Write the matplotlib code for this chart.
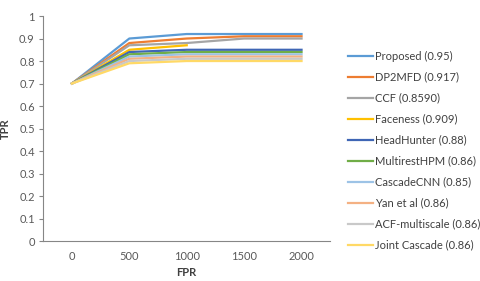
import matplotlib.pyplot as plt
import numpy as np

plt.rcParams['font.family'] = ['Lato', 'DejaVu Sans']

fpr_labels = ['0', '500', '1000', '1500', '2000']

names = ['Proposed (0.95)', 'DP2MFD (0.917)', 'CCF (0.8590)', 'Faceness (0.909)',
         'HeadHunter (0.88)', 'MultirestHPM (0.86)', 'CascadeCNN (0.85)',
         'Yan et al (0.86)', 'ACF-multiscale (0.86)', 'Joint Cascade (0.86)']

proposed = [0.70, 0.90, 0.92, 0.92, 0.92]
dp2mfd = [0.70, 0.88, 0.90, 0.91, 0.91]
ccf = [0.70, 0.87, 0.88, 0.90, 0.90]
faceness = [0.70, 0.85, 0.87, np.nan, np.nan]
headhunter = [0.70, 0.84, 0.85, 0.85, 0.85]
multirest = [0.70, 0.83, 0.84, 0.84, 0.84]
cascadecnn = [0.70, 0.82, 0.83, 0.83, 0.83]
yan = [0.70, 0.81, 0.82, 0.82, 0.82]
acf = [0.70, 0.80, 0.81, 0.81, 0.81]
joint = [0.70, 0.79, 0.80, 0.80, 0.80]

series = [proposed, dp2mfd, ccf, faceness, headhunter, multirest,
          cascadecnn, yan, acf, joint]
colors = ['#5B9BD5', '#ED7D31', '#A5A5A5', '#FFC000', '#3F66B5', '#70AD47',
          '#9DC3E6', '#F4B183', '#C9C9C9', '#FFD966']

fig = plt.figure(figsize=(4.8, 2.81), dpi=100)
ax = fig.add_axes([0.09, 0.142, 0.598, 0.801])

x = np.arange(len(fpr_labels))
for name, vals, c in zip(names, series, colors):
    ax.plot(x, vals, color=c, lw=1.6, label=name)

ax.set_xlim(-0.5, 4.5)
ax.set_ylim(0, 1)
ax.set_xticks(x)
ax.set_xticklabels(fpr_labels)
ax.set_yticks(np.arange(0, 1.01, 0.1))
ax.set_yticklabels(['0', '0.1', '0.2', '0.3', '0.4', '0.5', '0.6', '0.7', '0.8', '0.9', '1'])
for s in ['top', 'right']:
    ax.spines[s].set_visible(False)
ax.spines['left'].set_color('#868686')
ax.spines['bottom'].set_color('#868686')
ax.spines['left'].set_linewidth(0.8)
ax.spines['bottom'].set_linewidth(0.8)
ax.tick_params(axis='y', length=3, color='#868686', labelsize=8, labelcolor='#595959', pad=3)
ax.tick_params(axis='x', length=0, labelsize=8, labelcolor='#595959', pad=7)

ax.set_xlabel('FPR', fontsize=8, fontweight='bold', color='#404040', labelpad=4)
ax.set_ylabel('TPR', fontsize=8, fontweight='bold', color='#404040', labelpad=6)

ax.legend(loc='upper left', bbox_to_anchor=(0.705, 0.855), bbox_transform=fig.transFigure,
          frameon=False, fontsize=8, handlelength=2.2, handletextpad=0.2,
          labelspacing=0.9, labelcolor='#404040')

fig.savefig('out.png', dpi=100)
